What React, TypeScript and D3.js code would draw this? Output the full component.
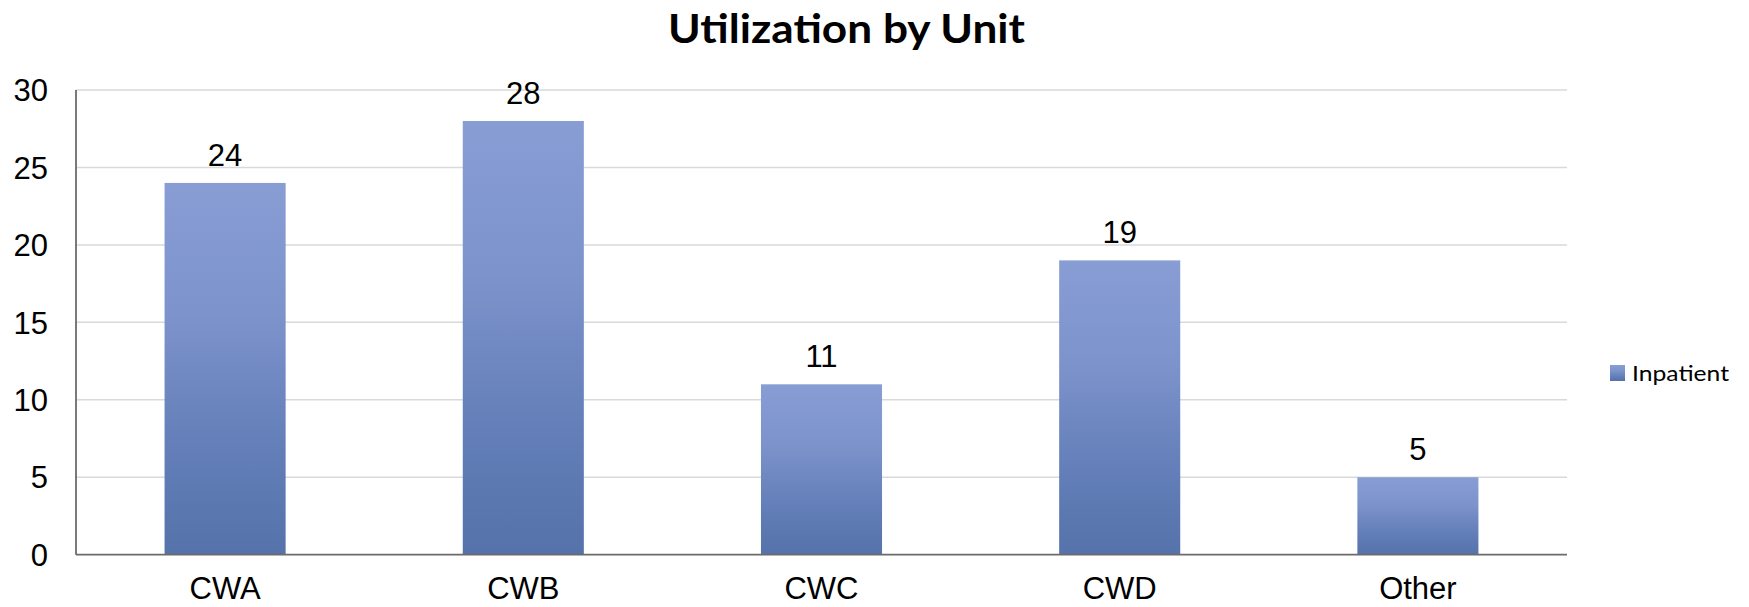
import React from "react";
import * as d3 from "d3";

const categories = ["CWA", "CWB", "CWC", "CWD", "Other"];
const inpatient = [24, 28, 11, 19, 5];
const yTicks = [0, 5, 10, 15, 20, 25, 30];
const seriesName = "Inpatient";
const title = "Utilization by Unit";

const W = 1749;
const H = 607;
const plot = { left: 76, right: 1567, top: 90, bottom: 554.7 };

export default function App() {
  const x = d3
    .scaleBand<string>()
    .domain(categories)
    .range([plot.left, plot.right])
    .paddingInner(0.594)
    .paddingOuter(0.297);
  const y = d3.scaleLinear().domain([0, 30]).range([plot.bottom, plot.top]);
  const numFont = "'Liberation Sans', Arial, sans-serif";
  const calFont = "Lato, 'Open Sans', sans-serif";

  return (
    <svg
      width={W}
      height={H}
      style={{ position: "fixed", left: 0, top: 0, background: "#fff" }}
    >
      <defs>
        <linearGradient id="barGrad" x1="0" y1="0" x2="0" y2="1">
          <stop offset="0" stopColor="#889dd4" />
          <stop offset="0.35" stopColor="#7d93cc" />
          <stop offset="0.7" stopColor="#647fb9" />
          <stop offset="1" stopColor="#5572aa" />
        </linearGradient>
      </defs>
      <rect x={0} y={0} width={W} height={H} fill="#fff" />
      <text
        x={846.5}
        y={43}
        textAnchor="middle"
        fontFamily={calFont}
        fontWeight={700}
        fontSize={40}
        textLength={357}
        lengthAdjust="spacingAndGlyphs"
        fill="#000"
      >
        {title}
      </text>
      {yTicks.map((t) =>
        t === 0 ? null : (
          <line
            key={"g" + t}
            x1={plot.left}
            x2={plot.right}
            y1={y(t)}
            y2={y(t)}
            stroke="#d9d9d9"
            strokeWidth={1.5}
          />
        )
      )}
      {yTicks.map((t) => (
        <text
          key={"t" + t}
          x={48}
          y={y(t)}
          dy="0.36em"
          textAnchor="end"
          fontFamily={numFont}
          fontSize={31}
          fill="#000"
        >
          {t}
        </text>
      ))}
      {categories.map((c, i) => (
        <g key={c}>
          <rect
            x={x(c)}
            y={y(inpatient[i])}
            width={x.bandwidth()}
            height={y(0) - y(inpatient[i])}
            fill="url(#barGrad)"
          />
          <text
            x={(x(c) as number) + x.bandwidth() / 2}
            y={y(inpatient[i]) - 17}
            textAnchor="middle"
            fontFamily={numFont}
            fontSize={31}
            fill="#000"
          >
            {inpatient[i]}
          </text>
          <text
            x={(x(c) as number) + x.bandwidth() / 2}
            y={599}
            textAnchor="middle"
            fontFamily={numFont}
            fontSize={31}
            fill="#000"
          >
            {c}
          </text>
        </g>
      ))}
      <line
        x1={plot.left}
        x2={plot.left}
        y1={plot.top}
        y2={plot.bottom}
        stroke="#6b6b6b"
        strokeWidth={1.8}
      />
      <line
        x1={plot.left}
        x2={plot.right}
        y1={plot.bottom}
        y2={plot.bottom}
        stroke="#6b6b6b"
        strokeWidth={1.8}
      />
      <rect x={1610} y={365} width={15} height={16} fill="url(#barGrad)" />
      <text
        x={1632}
        y={380.5}
        fontFamily={calFont}
        fontSize={22}
        textLength={97}
        lengthAdjust="spacingAndGlyphs"
        fill="#000"
      >
        {seriesName}
      </text>
    </svg>
  );
}
